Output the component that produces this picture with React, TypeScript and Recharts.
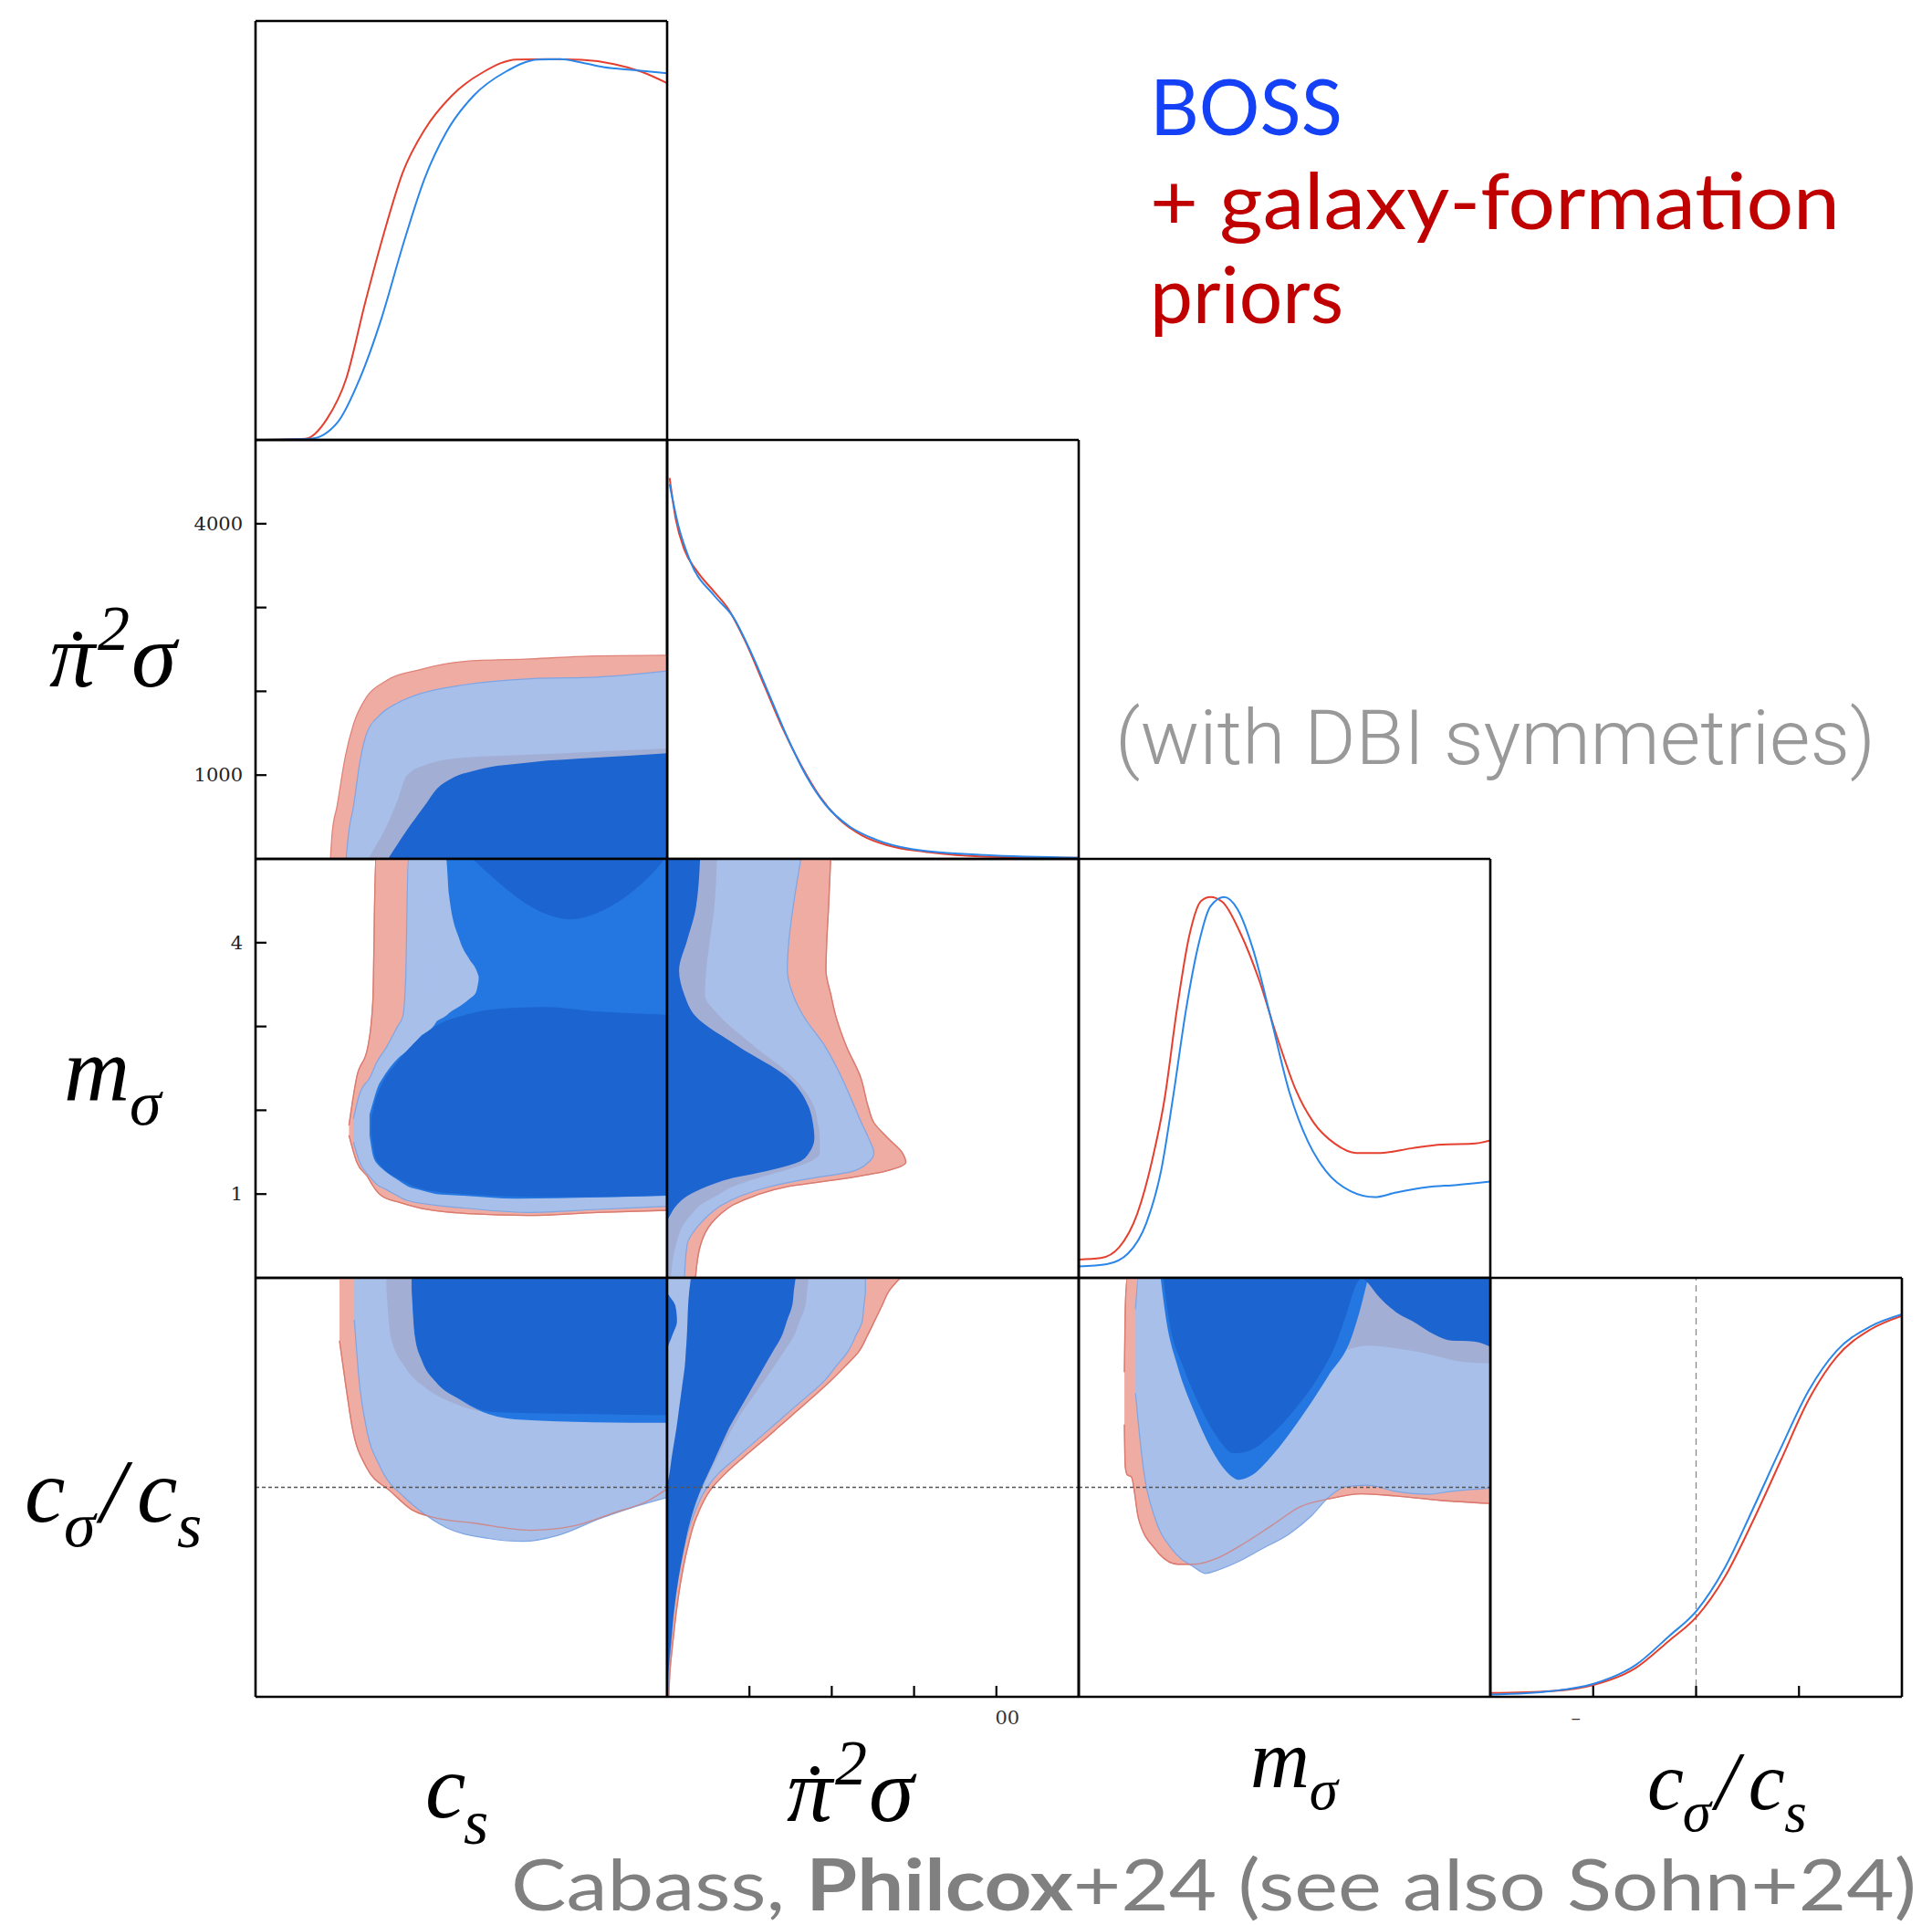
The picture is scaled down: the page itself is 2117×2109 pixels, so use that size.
import React from "react";
import { ComposedChart, Area, Line, XAxis, YAxis, ReferenceLine } from "recharts";

// triangle geometry (page pixels)
const PANEL_LEFT = 280;
const PANEL_TOP = 23;
const PANEL_W = 451;
const PANEL_H = 459;
const PAD = 8;

// parameter axes
const CS_DOMAIN: [number, number] = [0, 1];
const CS_TICKS = [0.25, 0.5, 0.75];
const PI_DOMAIN: [number, number] = [0, 5000];
const PI_TICKS = [1000, 2000, 3000, 4000];
const M_DOMAIN: [number, number] = [0, 5];
const M_TICKS = [1, 2, 3, 4];
const R_DOMAIN: [number, number] = [0, 2];
const R_TICKS = [0.5, 1, 1.5];
const PDF_DOMAIN: [number, number] = [0, 1.1];

// ---- 1D marginals: [x, density] ----
const csRed = [[0, 0], [0.121, 0.003], [0.174, 0.056], [0.22, 0.16], [0.266, 0.359], [0.312, 0.543], [0.358, 0.703], [0.411, 0.815], [0.476, 0.903], [0.555, 0.967], [0.634, 0.999], [0.713, 1.0], [0.792, 0.998], [0.871, 0.987], [0.937, 0.967], [1.0, 0.937]];
const csBlue = [[0, 0], [0.133, 0.003], [0.2, 0.047], [0.253, 0.16], [0.306, 0.319], [0.358, 0.511], [0.411, 0.687], [0.463, 0.807], [0.529, 0.903], [0.608, 0.967], [0.687, 0.999], [0.74, 1.0], [0.792, 0.991], [0.845, 0.979], [0.923, 0.971], [1.0, 0.963]];

const piRed = [[30, 1.0], [104, 0.893], [209, 0.812], [358, 0.757], [582, 0.699], [731, 0.66], [955, 0.569], [1179, 0.456], [1403, 0.343], [1627, 0.246], [1851, 0.165], [2075, 0.107], [2373, 0.061], [2672, 0.036], [3119, 0.019], [3866, 0.006], [5000, 0.003]];
const piBlue = [[30, 0.984], [134, 0.877], [284, 0.78], [582, 0.689], [806, 0.634], [1030, 0.537], [1254, 0.424], [1478, 0.311], [1701, 0.214], [1925, 0.142], [2224, 0.084], [2522, 0.052], [2970, 0.026], [3866, 0.01], [5000, 0.003]];

const mRed = [[0, 0.048], [0.268, 0.052], [0.49, 0.08], [0.711, 0.168], [0.896, 0.312], [1.044, 0.471], [1.192, 0.703], [1.34, 0.895], [1.488, 0.99], [1.599, 1.0], [1.747, 0.987], [1.969, 0.903], [2.19, 0.783], [2.412, 0.631], [2.634, 0.495], [2.856, 0.407], [3.114, 0.352], [3.373, 0.328], [3.669, 0.328], [4.039, 0.34], [4.408, 0.35], [4.778, 0.352], [5.0, 0.361]];
const mBlue = [[0, 0.03], [0.342, 0.036], [0.6, 0.064], [0.822, 0.144], [1.007, 0.288], [1.155, 0.487], [1.303, 0.703], [1.451, 0.871], [1.599, 0.975], [1.766, 1.0], [1.932, 0.967], [2.117, 0.863], [2.338, 0.679], [2.56, 0.487], [2.782, 0.359], [3.004, 0.28], [3.299, 0.228], [3.595, 0.212], [3.854, 0.224], [4.224, 0.238], [4.593, 0.244], [5.0, 0.253]];

const rRed = [[0, 0.01], [0.298, 0.015], [0.502, 0.031], [0.705, 0.075], [0.868, 0.147], [1.004, 0.211], [1.14, 0.315], [1.275, 0.46], [1.411, 0.62], [1.547, 0.78], [1.682, 0.892], [1.846, 0.964], [2.0, 1.0]];
const rBlue = [[0, 0.006], [0.298, 0.015], [0.502, 0.034], [0.705, 0.083], [0.868, 0.159], [1.004, 0.227], [1.14, 0.339], [1.275, 0.492], [1.411, 0.652], [1.547, 0.804], [1.682, 0.908], [1.846, 0.972], [2.0, 1.004]];

// ---- 2D contours: [x, low, high] ----
// c_s vs pi2sigma
const csPiRed2 = [[0.182, 0, 0], [0.186, 0, 300], [0.198, 0, 628], [0.218, 0, 1220], [0.238, 0, 1607], [0.27, 0, 1934], [0.313, 0, 2114], [0.4, 0, 2260], [0.507, 0, 2358], [0.668, 0, 2387], [0.829, 0, 2423], [1.0, 0, 2430]];
const csPiBlue2 = [[0.22, 0, 0], [0.226, 0, 300], [0.238, 0, 628], [0.254, 0, 1172], [0.27, 0, 1498], [0.302, 0, 1716], [0.345, 0, 1861], [0.399, 0, 1970], [0.507, 0, 2078], [0.668, 0, 2151], [0.829, 0, 2169], [1.0, 0, 2242]];
const csPiRed1 = [[0.274, 0, 0], [0.295, 0, 180], [0.313, 0, 337], [0.345, 0, 700], [0.367, 0, 990], [0.41, 0, 1117], [0.507, 0, 1208], [0.668, 0, 1244], [0.829, 0, 1280], [1.0, 0, 1317]];
const csPiBoth1 = [[0.322, 0, 0], [0.367, 0, 337], [0.41, 0, 628], [0.442, 0, 845], [0.474, 0, 954], [0.539, 0, 1063], [0.668, 0, 1153], [0.829, 0, 1208], [1.0, 0, 1262]];

// c_s vs m_sigma
const csMRed2 = [[0.227, 1.7, 1.82], [0.246, 1.38, 2.4], [0.273, 1.2, 2.76], [0.285, 1.1, 3.3], [0.292, 1.05, 5], [0.306, 0.98, 5], [0.35, 0.9, 5], [0.398, 0.835, 5], [0.529, 0.763, 5], [0.661, 0.744, 5], [0.831, 0.781, 5], [1.0, 0.806, 5]];
const csMBlue2 = [[0.238, 1.62, 1.9], [0.253, 1.38, 2.2], [0.279, 1.2, 2.4], [0.292, 1.126, 2.55], [0.319, 1.05, 2.76], [0.345, 0.98, 3.0], [0.358, 0.944, 3.123], [0.365, 0.93, 3.6], [0.371, 0.92, 5], [0.503, 0.835, 5], [0.661, 0.781, 5], [0.831, 0.817, 5], [1.0, 0.853, 5]];
const csMBlue1 = [[0.277, 1.7, 1.95], [0.286, 1.45, 2.106], [0.299, 1.343, 2.3], [0.306, 1.31, 2.36], [0.345, 1.17, 2.614], [0.371, 1.089, 2.72], [0.398, 1.05, 2.869], [0.44, 1.0, 3.06], [0.463, 0.99, 5], [0.503, 0.98, 5], [0.634, 0.944, 5], [0.831, 0.96, 5], [1.0, 0.98, 5]];
const csMNotch = [[0.436, 3.05, 5], [0.45, 3.09, 5], [0.463, 3.13, 5], [0.47, 3.16, 4.575], [0.496, 3.24, 4.031], [0.52, 3.33, 3.8], [0.536, 3.413, 3.68], [0.542, 3.55, 3.6]];
const csMBoth1Low = [[0.281, 1.72, 1.9], [0.29, 1.45, 2.1], [0.306, 1.33, 2.3], [0.345, 1.19, 2.58], [0.398, 1.07, 2.86], [0.45, 1.02, 3.04], [0.503, 1.0, 3.13], [0.595, 0.975, 3.214], [0.7, 0.965, 3.232], [0.831, 0.965, 3.177], [1.0, 0.985, 3.141]];
const csMBoth1Top = [[0.53, 4.99, 5], [0.56, 4.85, 5], [0.595, 4.7, 5], [0.647, 4.5, 5], [0.713, 4.33, 5], [0.766, 4.278, 5], [0.831, 4.357, 5], [0.897, 4.539, 5], [0.95, 4.757, 5], [0.99, 4.97, 5]];

// pi2sigma vs m_sigma (right edges of bands on an m grid)
const mGrid21 = [0, 0.4, 0.654, 0.763, 0.871, 0.98, 1.089, 1.18, 1.271, 1.38, 1.489, 1.67, 1.852, 2.034, 2.397, 2.76, 3.123, 3.377, 3.667, 4.031, 4.393, 5.0];
const piEdgeRed2 = [345, 408, 540, 650, 803, 1065, 1460, 2118, 2644, 2900, 2860, 2680, 2512, 2445, 2350, 2180, 2050, 1990, 1930, 1940, 1960, 1987];
const piEdgeBlue2 = [210, 244, 408, 520, 670, 900, 1250, 1700, 2249, 2446, 2512, 2446, 2360, 2280, 2118, 1921, 1657, 1530, 1460, 1480, 1526, 1625];
const piEdgeRed1 = [45, 110, 210, 300, 408, 600, 800, 1060, 1394, 1723, 1855, 1855, 1830, 1789, 1526, 1065, 640, 460, 475, 520, 570, 605];
const piEdgeBoth1 = [0, 0, 0, 45, 120, 250, 480, 750, 1197, 1592, 1723, 1789, 1770, 1723, 1460, 870, 345, 210, 145, 244, 345, 400];

// c_s vs c_sigma/c_s
const csRRed2 = [[0.204, 1.7, 2], [0.218, 1.504, 2], [0.235, 1.286, 2], [0.269, 1.097, 2], [0.328, 0.981, 2], [0.379, 0.894, 2], [0.43, 0.858, 2], [0.532, 0.829, 2], [0.667, 0.795, 2], [0.769, 0.814, 2], [0.871, 0.879, 2], [0.956, 0.938, 2], [1.0, 0.993, 2]];
const csRBlue2 = [[0.24, 1.8, 2], [0.252, 1.504, 2], [0.269, 1.286, 2], [0.303, 1.097, 2], [0.362, 0.952, 2], [0.396, 0.894, 2], [0.464, 0.807, 2], [0.566, 0.756, 2], [0.65, 0.742, 2], [0.735, 0.771, 2], [0.837, 0.851, 2], [0.922, 0.908, 2], [1.0, 0.952, 2]];
const csRRed1 = [[0.318, 1.95, 2], [0.328, 1.722, 2], [0.362, 1.577, 2], [0.413, 1.475, 2], [0.481, 1.402, 2], [0.566, 1.359, 2], [0.735, 1.352, 2], [1.0, 1.344, 2]];
const csRBlue1 = [[0.379, 1.95, 2], [0.387, 1.722, 2], [0.404, 1.606, 2], [0.438, 1.504, 2], [0.498, 1.417, 2], [0.566, 1.35, 2], [0.65, 1.322, 2], [0.82, 1.311, 2], [1.0, 1.308, 2]];
const csRBoth1 = [[0.38, 1.95, 2], [0.388, 1.722, 2], [0.405, 1.606, 2], [0.438, 1.504, 2], [0.498, 1.42, 2], [0.566, 1.362, 2], [0.65, 1.355, 2], [0.82, 1.35, 2], [1.0, 1.344, 2]];

// pi2sigma vs c_sigma/c_s (band edges on an r grid)
const rGrid31 = [0, 0.124, 0.269, 0.415, 0.56, 0.705, 0.851, 0.996, 1.068, 1.141, 1.213, 1.286, 1.359, 1.431, 1.504, 1.577, 1.649, 1.722, 1.794, 1.867, 1.94, 2.0];
const piRRed2 = [20, 35, 72, 115, 170, 245, 350, 543, 713, 920, 1137, 1350, 1561, 1770, 1975, 2160, 2330, 2430, 2520, 2610, 2700, 2834];
const piRBlue2 = [8, 22, 46, 80, 130, 200, 305, 480, 628, 840, 1052, 1265, 1477, 1690, 1900, 2050, 2197, 2290, 2370, 2390, 2409, 2409];
const piRInnerLeft = [0, 0, 0, 0, 0, 0, 0, 0, 30, 55, 85, 115, 140, 165, 190, 215, 228, 240, 248, 255, 270, 289];
const piRRed1 = [0, 18, 53, 88, 140, 208, 295, 430, 515, 610, 700, 800, 910, 1040, 1170, 1300, 1420, 1540, 1610, 1680, 1700, 1720];
const piRBoth1 = [0, 17, 51, 85, 136, 204, 289, 416, 500, 586, 670, 756, 862, 968, 1074, 1180, 1286, 1392, 1455, 1519, 1540, 1561];
const piRBlob = [0, 0, 0, 0, 0, 0, 0, 0, 0, 0, 0, 0, 0, 0, 0, 0, 0, 60, 120, 100, 0, 0];

// m_sigma vs c_sigma/c_s
const mRRed2 = [[0.555, 1.3, 1.55], [0.565, 1.1, 1.85], [0.59, 1.06, 2], [0.64, 1.05, 2], [0.726, 0.851, 2], [0.929, 0.705, 2], [1.201, 0.633, 2], [1.405, 0.633, 2], [1.676, 0.661, 2], [2.016, 0.734, 2], [2.356, 0.821, 2], [2.695, 0.908, 2], [3.034, 0.945, 2], [3.441, 0.969, 2], [3.849, 0.959, 2], [4.392, 0.938, 2], [5.0, 0.923, 2]];
const mRBlue2 = [[0.69, 1.45, 1.85], [0.726, 1.3, 2], [0.794, 1.068, 2], [0.929, 0.851, 2], [1.133, 0.705, 2], [1.405, 0.618, 2], [1.541, 0.589, 2], [1.676, 0.603, 2], [1.948, 0.647, 2], [2.219, 0.705, 2], [2.559, 0.778, 2], [2.83, 0.865, 2], [3.034, 0.952, 2], [3.238, 1.003, 2], [3.509, 1.01, 2], [3.849, 0.981, 2], [4.256, 0.967, 2], [4.528, 0.981, 2], [5.0, 0.996, 2]];
const mRRed1 = [[3.0, 1.64, 2], [3.17, 1.649, 2], [3.509, 1.677, 2], [3.849, 1.664, 2], [4.256, 1.635, 2], [4.664, 1.599, 2], [5.0, 1.591, 2]];
const mRBlue1 = [[0.998, 1.99, 2], [1.065, 1.794, 2], [1.201, 1.577, 2], [1.405, 1.359, 2], [1.609, 1.184, 2], [1.813, 1.068, 2], [1.948, 1.036, 2], [2.084, 1.053, 2], [2.356, 1.155, 2], [2.695, 1.33, 2], [3.034, 1.533, 2], [3.306, 1.707, 2], [3.441, 1.881, 2], [3.509, 1.99, 2]];
const mRBoth1 = [[1.031, 1.99, 2], [1.1, 1.794, 2], [1.269, 1.577, 2], [1.472, 1.388, 2], [1.676, 1.243, 2], [1.88, 1.163, 2], [2.084, 1.177, 2], [2.356, 1.257, 2], [2.626, 1.373, 2], [2.898, 1.519, 2], [3.102, 1.664, 2], [3.238, 1.809, 2], [3.374, 1.969, 2], [3.44, 2, 2], [3.475, 1.99, 2], [3.645, 1.911, 2], [3.849, 1.838, 2], [4.052, 1.794, 2], [4.324, 1.729, 2], [4.528, 1.7, 2], [4.8, 1.696, 2], [5.0, 1.671, 2]];

// colours
const C_RED2 = "#eeaca3";
const C_BLUE2 = "#a7bfe9";
const C_RED1 = "#a3aed4";
const C_BLUE1 = "#2477e1";
const C_BOTH1 = "#1c64cf";
const LINE_RED = "#e5402f";
const LINE_BLUE = "#2a86e8";

const FRAME = { stroke: "#000", strokeWidth: 2.6 };
const TICK_LINE = { stroke: "#000", strokeWidth: 2.2 };
const TICK_LEN = 12;

function mergeRows(series: Record<string, number[][]>) {
  const rows = new Map<number, any>();
  Object.entries(series).forEach(([key, pts]) => {
    pts.forEach(([k, a, b]) => {
      const row = rows.get(k) ?? { k };
      row[key] = b === undefined ? a : [a, b];
      rows.set(k, row);
    });
  });
  return Array.from(rows.values()).sort((p, q) => p.k - q.k);
}

const csPdfRows = mergeRows({ red: csRed, blue: csBlue });
const piPdfRows = mergeRows({ red: piRed, blue: piBlue });
const mPdfRows = mergeRows({ red: mRed, blue: mBlue });
const rPdfRows = mergeRows({ red: rRed, blue: rBlue });
const csPiRows = mergeRows({ red2: csPiRed2, blue2: csPiBlue2, red1: csPiRed1, both1: csPiBoth1 });
const csMRows = mergeRows({ red2: csMRed2, blue2: csMBlue2, blue1: csMBlue1, notch: csMNotch, both1: csMBoth1Low, both1b: csMBoth1Top });
const csRRows = mergeRows({ red2: csRRed2, blue2: csRBlue2, red1: csRRed1, blue1: csRBlue1, both1: csRBoth1 });
const mRRows = mergeRows({ red2: mRRed2, blue2: mRBlue2, red1: mRRed1, blue1: mRBlue1, both1: mRBoth1 });
const piMRows = mGrid21.map((k, i) => ({ k, red2: [0, piEdgeRed2[i]], blue2: [0, piEdgeBlue2[i]], red1: [0, piEdgeRed1[i]], both1: [0, piEdgeBoth1[i]] }));
const piRRows = rGrid31.map((k, i) => ({ k, red2: [0, piRRed2[i]], blue2: [0, piRBlue2[i]], red1: [piRInnerLeft[i], piRRed1[i]], both1: [piRInnerLeft[i], piRBoth1[i]], blob: [0, piRBlob[i]] }));

function region(key: string, fill: string, stroke = "none", strokeWidth = 0) {
  return (
    <Area key={key} dataKey={key} type="monotone" fill={fill} fillOpacity={1} stroke={stroke} strokeWidth={strokeWidth}
      connectNulls dot={false} activeDot={false} isAnimationActive={false} />
  );
}

function outline(key: string, color: string) {
  return (
    <Area key={key + "-edge"} dataKey={key} type="monotone" fill="none" stroke={color} strokeWidth={1.3} strokeOpacity={0.75}
      connectNulls dot={false} activeDot={false} isAnimationActive={false} />
  );
}

function pdf(key: string, color: string) {
  return (
    <Line key={key} dataKey={key} type="monotone" stroke={color} strokeWidth={2} dot={false} activeDot={false}
      connectNulls isAnimationActive={false} />
  );
}

function leftLabels(shown: number[]) {
  return (props: any) => {
    const v = props.payload?.value;
    if (!shown.includes(v)) return <g />;
    return (
      <text x={PAD - 14} y={props.y} textAnchor="end" dominantBaseline="central" fontFamily="DejaVu Serif" fontSize={21} fill="#222">
        {v}
      </text>
    );
  };
}

function bottomLabel(value: number, text: string, dx: number) {
  return (props: any) => {
    if (props.payload?.value !== value) return <g />;
    return (
      <text x={props.x + dx} y={PAD + PANEL_H + 23} textAnchor="middle" dominantBaseline="central" fontFamily="DejaVu Serif" fontSize={21} fill="#333">
        {text}
      </text>
    );
  };
}

type PanelProps = {
  row: number;
  col: number;
  xDomain: [number, number];
  xTicks: number[];
  yDomain: [number, number];
  yTicks: number[];
  data: any[];
  vertical?: boolean;
  diag?: boolean;
  leftTick?: any;
  bottomTick?: any;
  children?: React.ReactNode;
};

function Panel({ row, col, xDomain, xTicks, yDomain, yTicks, data, vertical = false, diag = false, leftTick = false, bottomTick = false, children }: PanelProps) {
  const side = diag ? false : TICK_LINE;
  return (
    <div style={{ position: "absolute", left: PANEL_LEFT + col * PANEL_W - PAD, top: PANEL_TOP + row * PANEL_H - PAD }}>
      <ComposedChart width={PANEL_W + 2 * PAD} height={PANEL_H + 2 * PAD} data={data} layout={vertical ? "vertical" : "horizontal"}
        margin={{ top: PAD, right: PAD, bottom: PAD, left: PAD }}>
        {children}
        <XAxis xAxisId={0} dataKey={vertical ? undefined : "k"} type="number" domain={xDomain} ticks={xTicks} interval={0} allowDataOverflow
          orientation="bottom" mirror height={1} stroke="#000" axisLine={FRAME} tickLine={TICK_LINE} tickSize={TICK_LEN} tick={bottomTick} />
        <XAxis xAxisId="top" type="number" domain={xDomain} ticks={xTicks} interval={0} allowDataOverflow
          orientation="top" mirror height={1} stroke="#000" axisLine={FRAME} tickLine={side} tickSize={TICK_LEN} tick={false} />
        <YAxis yAxisId={0} dataKey={vertical ? "k" : undefined} type="number" domain={yDomain} ticks={yTicks} interval={0} allowDataOverflow
          reversed={vertical} orientation="left" mirror width={1} stroke="#000" axisLine={FRAME} tickLine={side} tickSize={TICK_LEN} tick={leftTick} />
        <YAxis yAxisId="right" type="number" domain={yDomain} ticks={yTicks} interval={0} allowDataOverflow
          orientation="right" mirror width={1} stroke="#000" axisLine={FRAME} tickLine={side} tickSize={TICK_LEN} tick={false} />
      </ComposedChart>
    </div>
  );
}

const MATH = { fontFamily: "'Liberation Serif', 'Times New Roman', serif", fontStyle: "italic" as const, fill: "#000" };

// pi-dot squared sigma; the time-derivative dot is drawn as a small disc
function PiSigma({ x, y, s }: { x: number; y: number; s: number }) {
  return (
    <g>
      <text x={x} y={y} fontSize={s} {...MATH}>
        π<tspan dx={0.03 * s} dy={-0.4 * s} fontSize={0.7 * s}>2</tspan><tspan dx={0.02 * s} dy={0.4 * s}>σ</tspan>
      </text>
      <circle cx={x + 0.31 * s} cy={y - 0.55 * s} r={0.05 * s} fill="#000" />
    </g>
  );
}

function MSigma({ x, y, s }: { x: number; y: number; s: number }) {
  return (
    <g {...MATH}>
      <text x={x} y={y} fontSize={s}>m</text>
      <text x={x + 0.72 * s} y={y + 0.27 * s} fontSize={0.7 * s}>σ</text>
    </g>
  );
}

function CRatio({ x, y, s }: { x: number; y: number; s: number }) {
  return (
    <g {...MATH}>
      <text x={x} y={y} fontSize={s}>c</text>
      <text x={x + 0.43 * s} y={y + 0.27 * s} fontSize={0.7 * s}>σ</text>
      <text x={x + 0.83 * s} y={y} fontSize={s}>/</text>
      <text x={x + 1.23 * s} y={y} fontSize={s}>c</text>
      <text x={x + 1.67 * s} y={y + 0.28 * s} fontSize={0.7 * s}>s</text>
    </g>
  );
}

function Cs({ x, y, s }: { x: number; y: number; s: number }) {
  return (
    <g {...MATH}>
      <text x={x} y={y} fontSize={s}>c</text>
      <text x={x + 0.42 * s} y={y + 0.29 * s} fontSize={0.7 * s}>s</text>
    </g>
  );
}

export default function App() {
  return (
    <div style={{ position: "absolute", left: 0, top: 0, width: 2117, height: 2109, background: "#fff", overflow: "hidden" }}>
      <style>{`.recharts-surface{overflow:visible}`}</style>

      {/* diagonal: 1D marginals */}
      <Panel row={0} col={0} xDomain={CS_DOMAIN} xTicks={CS_TICKS} yDomain={PDF_DOMAIN} yTicks={[0.5]} data={csPdfRows} diag>
        {pdf("red", LINE_RED)}
        {pdf("blue", LINE_BLUE)}
      </Panel>
      <Panel row={1} col={1} xDomain={PI_DOMAIN} xTicks={PI_TICKS} yDomain={PDF_DOMAIN} yTicks={[0.5]} data={piPdfRows} diag>
        {pdf("red", LINE_RED)}
        {pdf("blue", LINE_BLUE)}
      </Panel>
      <Panel row={2} col={2} xDomain={M_DOMAIN} xTicks={M_TICKS} yDomain={PDF_DOMAIN} yTicks={[0.5]} data={mPdfRows} diag>
        {pdf("red", LINE_RED)}
        {pdf("blue", LINE_BLUE)}
      </Panel>
      <Panel row={3} col={3} xDomain={R_DOMAIN} xTicks={R_TICKS} yDomain={PDF_DOMAIN} yTicks={[0.5]} data={rPdfRows} diag
        bottomTick={bottomLabel(0.5, "–", -19)}>
        <ReferenceLine x={1} stroke="#8a8a8a" strokeWidth={1.3} strokeDasharray="7 5" />
        {pdf("red", LINE_RED)}
        {pdf("blue", LINE_BLUE)}
      </Panel>

      {/* off-diagonal: 2D contours */}
      <Panel row={1} col={0} xDomain={CS_DOMAIN} xTicks={CS_TICKS} yDomain={PI_DOMAIN} yTicks={PI_TICKS} data={csPiRows}
        leftTick={leftLabels([1000, 4000])}>
        {region("red2", C_RED2, "#e0847a", 1.3)}
        {region("blue2", C_BLUE2, "#7fa6e4", 1.2)}
        {region("red1", C_RED1)}
        {region("both1", C_BOTH1)}
      </Panel>

      <Panel row={2} col={0} xDomain={CS_DOMAIN} xTicks={CS_TICKS} yDomain={M_DOMAIN} yTicks={M_TICKS} data={csMRows}
        leftTick={leftLabels([1, 4])}>
        {region("red2", C_RED2, "#e0847a", 1.3)}
        {region("blue2", C_BLUE2, "#7fa6e4", 1.2)}
        {outline("red2", "#d9776c")}
        {region("blue1", C_BLUE1)}
        {region("notch", C_BLUE2)}
        {region("both1", C_BOTH1)}
        {region("both1b", C_BOTH1)}
      </Panel>

      <Panel row={2} col={1} xDomain={PI_DOMAIN} xTicks={PI_TICKS} yDomain={M_DOMAIN} yTicks={M_TICKS} data={piMRows} vertical>
        {region("red2", C_RED2, "#e0847a", 1.3)}
        {region("blue2", C_BLUE2, "#7fa6e4", 1.2)}
        {outline("red2", "#d9776c")}
        {region("red1", C_RED1)}
        {region("both1", C_BOTH1)}
      </Panel>

      <Panel row={3} col={0} xDomain={CS_DOMAIN} xTicks={CS_TICKS} yDomain={R_DOMAIN} yTicks={R_TICKS} data={csRRows}>
        {region("red2", C_RED2, "#e0847a", 1.3)}
        {region("blue2", C_BLUE2, "#7fa6e4", 1.2)}
        {outline("red2", "#d9776c")}
        {region("red1", C_RED1)}
        {region("blue1", C_BLUE1)}
        {region("both1", C_BOTH1)}
        <ReferenceLine y={1} stroke="#555" strokeWidth={1.5} strokeDasharray="4 3" />
      </Panel>

      <Panel row={3} col={1} xDomain={PI_DOMAIN} xTicks={PI_TICKS} yDomain={R_DOMAIN} yTicks={R_TICKS} data={piRRows} vertical
        bottomTick={bottomLabel(4000, "00", 12)}>
        {region("red2", C_RED2, "#e0847a", 1.3)}
        {region("blue2", C_BLUE2, "#7fa6e4", 1.2)}
        {outline("red2", "#d9776c")}
        {region("red1", C_RED1)}
        {region("both1", C_BOTH1)}
        {region("blob", C_BOTH1)}
        <ReferenceLine y={1} stroke="#555" strokeWidth={1.5} strokeDasharray="4 3" />
      </Panel>

      <Panel row={3} col={2} xDomain={M_DOMAIN} xTicks={M_TICKS} yDomain={R_DOMAIN} yTicks={R_TICKS} data={mRRows}>
        {region("red2", C_RED2, "#e0847a", 1.3)}
        {region("blue2", C_BLUE2, "#7fa6e4", 1.2)}
        {outline("red2", "#d9776c")}
        {region("red1", C_RED1)}
        {region("blue1", C_BLUE1)}
        {region("both1", C_BOTH1)}
        <ReferenceLine y={1} stroke="#555" strokeWidth={1.5} strokeDasharray="4 3" />
      </Panel>

      {/* labels and annotations */}
      <svg width={2117} height={2109} style={{ position: "absolute", left: 0, top: 0, pointerEvents: "none" }}>
        <PiSigma x={54} y={752} s={100} />
        <MSigma x={70} y={1205} s={100} />
        <CRatio x={27} y={1667} s={100} />

        <Cs x={466} y={1991} s={100} />
        <PiSigma x={862} y={1995} s={100} />
        <MSigma x={1370} y={1958} s={90} />
        <CRatio x={1805} y={1982} s={90} />

        <text x={1260} y={148} fontFamily="Lato" fontSize={86} fill="#1441f5" textLength={211} lengthAdjust="spacingAndGlyphs">BOSS</text>
        <text x={1260} y={251} fontFamily="Lato" fontSize={86} fill="#c00000" textLength={756} lengthAdjust="spacingAndGlyphs">+ galaxy-formation</text>
        <text x={1260} y={354} fontFamily="Lato" fontSize={86} fill="#c00000" textLength={212} lengthAdjust="spacingAndGlyphs">priors</text>

        <text x={1222} y={837} fontFamily="Roboto" fontWeight={300} fontSize={84} fill="#999" textLength={833} lengthAdjust="spacingAndGlyphs">(with DBI symmetries)</text>

        <text x={560} y={2093} fontFamily="Lato" fontSize={78} fill="#808080" textLength={1540} lengthAdjust="spacingAndGlyphs">Cabass, <tspan fontWeight={700}>Philcox</tspan>+24 (see also Sohn+24)</text>
      </svg>
    </div>
  );
}
